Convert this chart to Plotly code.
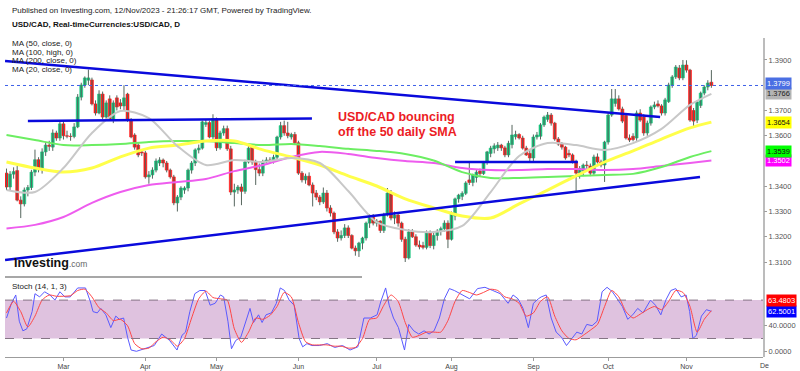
import plotly.graph_objects as go

# ---------------- DATA ----------------
opens = [
    1.3452, 1.3397, 1.3448, 1.3462, 1.3345, 1.3330, 1.3385, 1.3395, 1.3456, 1.3505,
    1.3466, 1.3536, 1.3563, 1.3555, 1.3611, 1.3591, 1.3647, 1.3600, 1.3598, 1.3597,
    1.3635, 1.3753, 1.3801, 1.3820, 1.3821, 1.3726, 1.3690, 1.3765, 1.3674, 1.3746,
    1.3666, 1.3750, 1.3730, 1.3718, 1.3765, 1.3662, 1.3603, 1.3563, 1.3536, 1.3532,
    1.3437, 1.3445, 1.3464, 1.3492, 1.3504, 1.3492, 1.3464, 1.3437, 1.3334, 1.3357,
    1.3385, 1.3393, 1.3464, 1.3492, 1.3544, 1.3551, 1.3645, 1.3652, 1.3595, 1.3668,
    1.3552, 1.3611, 1.3628, 1.3548, 1.3377, 1.3385, 1.3397, 1.3380, 1.3496, 1.3555,
    1.3496, 1.3466, 1.3452, 1.3496, 1.3504, 1.3501, 1.3515, 1.3595, 1.3640, 1.3611,
    1.3595, 1.3605, 1.3572, 1.3452, 1.3425, 1.3440, 1.3405, 1.3373, 1.3357, 1.3338,
    1.3373, 1.3314, 1.3294, 1.3219, 1.3195, 1.3205, 1.3235, 1.3205, 1.3155, 1.3144,
    1.3175, 1.3195, 1.3254, 1.3278, 1.3254, 1.3262, 1.3225, 1.3286, 1.3373, 1.3274,
    1.3286, 1.3254, 1.3190, 1.3116, 1.3219, 1.3200, 1.3167, 1.3165, 1.3158, 1.3215,
    1.3165, 1.3205, 1.3222, 1.3232, 1.3254, 1.3190, 1.3282, 1.3350, 1.3360, 1.3372,
    1.3425, 1.3415, 1.3435, 1.3460, 1.3450, 1.3496, 1.3530, 1.3548, 1.3552, 1.3563,
    1.3552, 1.3524, 1.3565, 1.3596, 1.3605, 1.3591, 1.3551, 1.3530, 1.3512, 1.3595,
    1.3598, 1.3643, 1.3665, 1.3682, 1.3650, 1.3587, 1.3567, 1.3555, 1.3530, 1.3524,
    1.3496, 1.3452, 1.3460, 1.3484, 1.3480, 1.3452, 1.3516, 1.3496, 1.3484, 1.3575,
    1.3682, 1.3728, 1.3746, 1.3706, 1.3680, 1.3591, 1.3598, 1.3591, 1.3690, 1.3674,
    1.3611, 1.3650, 1.3714, 1.3726, 1.3718, 1.3690, 1.3735, 1.3801, 1.3833, 1.3868,
    1.3829, 1.3880, 1.3860, 1.3700, 1.3662, 1.3720, 1.3769, 1.3793, 1.3812,
]
highs = [
    1.3470, 1.3460, 1.3475, 1.3480, 1.3360, 1.3395, 1.3405, 1.3465, 1.3545, 1.3515,
    1.3550, 1.3575, 1.3580, 1.3625, 1.3620, 1.3660, 1.3660, 1.3620, 1.3610, 1.3650,
    1.3765, 1.3810, 1.3835, 1.3862, 1.3830, 1.3740, 1.3780, 1.3775, 1.3740, 1.3760,
    1.3740, 1.3760, 1.3745, 1.3800, 1.3770, 1.3670, 1.3610, 1.3570, 1.3545, 1.3540,
    1.3460, 1.3475, 1.3510, 1.3515, 1.3510, 1.3500, 1.3470, 1.3445, 1.3365, 1.3400,
    1.3400, 1.3470, 1.3500, 1.3550, 1.3565, 1.3660, 1.3665, 1.3660, 1.3685, 1.3672,
    1.3620, 1.3640, 1.3640, 1.3560, 1.3410, 1.3405, 1.3410, 1.3505, 1.3560, 1.3565,
    1.3505, 1.3490, 1.3505, 1.3515, 1.3515, 1.3525, 1.3600, 1.3655, 1.3660, 1.3655,
    1.3612, 1.3615, 1.3580, 1.3460, 1.3450, 1.3455, 1.3415, 1.3385, 1.3365, 1.3395,
    1.3385, 1.3325, 1.3300, 1.3230, 1.3225, 1.3250, 1.3245, 1.3210, 1.3165, 1.3180,
    1.3200, 1.3260, 1.3290, 1.3290, 1.3270, 1.3265, 1.3295, 1.3393, 1.3385, 1.3300,
    1.3295, 1.3260, 1.3200, 1.3230, 1.3230, 1.3210, 1.3185, 1.3180, 1.3225, 1.3225,
    1.3215, 1.3230, 1.3240, 1.3265, 1.3265, 1.3300, 1.3355, 1.3370, 1.3380, 1.3420,
    1.3500, 1.3450, 1.3465, 1.3470, 1.3500, 1.3540, 1.3560, 1.3570, 1.3575, 1.3568,
    1.3560, 1.3580, 1.3643, 1.3620, 1.3610, 1.3600, 1.3560, 1.3545, 1.3605, 1.3615,
    1.3650, 1.3680, 1.3694, 1.3690, 1.3655, 1.3595, 1.3575, 1.3560, 1.3545, 1.3530,
    1.3505, 1.3480, 1.3490, 1.3500, 1.3490, 1.3525, 1.3530, 1.3505, 1.3580, 1.3690,
    1.3785, 1.3785, 1.3760, 1.3715, 1.3690, 1.3605, 1.3610, 1.3700, 1.3705, 1.3685,
    1.3660, 1.3720, 1.3735, 1.3740, 1.3725, 1.3750, 1.3810, 1.3840, 1.3880, 1.3880,
    1.3900, 1.3899, 1.3865, 1.3710, 1.3740, 1.3775, 1.3800, 1.3820, 1.3860,
]
lows = [
    1.3385, 1.3385, 1.3430, 1.3340, 1.3274, 1.3320, 1.3360, 1.3385, 1.3440, 1.3455,
    1.3450, 1.3520, 1.3540, 1.3540, 1.3580, 1.3580, 1.3585, 1.3590, 1.3580, 1.3590,
    1.3630, 1.3740, 1.3790, 1.3800, 1.3720, 1.3680, 1.3685, 1.3665, 1.3660, 1.3660,
    1.3650, 1.3700, 1.3705, 1.3700, 1.3655, 1.3590, 1.3545, 1.3515, 1.3520, 1.3430,
    1.3410, 1.3430, 1.3455, 1.3480, 1.3475, 1.3455, 1.3430, 1.3325, 1.3300, 1.3345,
    1.3370, 1.3380, 1.3450, 1.3480, 1.3530, 1.3545, 1.3635, 1.3590, 1.3585, 1.3540,
    1.3545, 1.3600, 1.3540, 1.3365, 1.3320, 1.3370, 1.3325, 1.3370, 1.3490, 1.3485,
    1.3405, 1.3440, 1.3440, 1.3485, 1.3490, 1.3490, 1.3505, 1.3585, 1.3600, 1.3590,
    1.3585, 1.3565, 1.3445, 1.3415, 1.3410, 1.3400, 1.3320, 1.3345, 1.3325, 1.3330,
    1.3300, 1.3280, 1.3210, 1.3180, 1.3185, 1.3195, 1.3195, 1.3150, 1.3125, 1.3120,
    1.3150, 1.3185, 1.3235, 1.3245, 1.3240, 1.3215, 1.3215, 1.3280, 1.3265, 1.3250,
    1.3240, 1.3180, 1.3100, 1.3110, 1.3195, 1.3160, 1.3150, 1.3150, 1.3150, 1.3155,
    1.3150, 1.3185, 1.3205, 1.3220, 1.3155, 1.3185, 1.3265, 1.3335, 1.3345, 1.3365,
    1.3405, 1.3400, 1.3415, 1.3440, 1.3445, 1.3485, 1.3515, 1.3530, 1.3540, 1.3540,
    1.3515, 1.3515, 1.3550, 1.3585, 1.3585, 1.3545, 1.3520, 1.3495, 1.3500, 1.3585,
    1.3585, 1.3635, 1.3655, 1.3640, 1.3580, 1.3560, 1.3545, 1.3505, 1.3515, 1.3490,
    1.3377, 1.3430, 1.3440, 1.3470, 1.3440, 1.3445, 1.3490, 1.3475, 1.3417, 1.3565,
    1.3675, 1.3715, 1.3700, 1.3650, 1.3585, 1.3575, 1.3578, 1.3580, 1.3655, 1.3600,
    1.3600, 1.3640, 1.3705, 1.3712, 1.3680, 1.3680, 1.3730, 1.3790, 1.3825, 1.3820,
    1.3820, 1.3850, 1.3655, 1.3635, 1.3650, 1.3710, 1.3760, 1.3780, 1.3790,
]
closes = [
    1.3397, 1.3448, 1.3458, 1.3345, 1.3330, 1.3385, 1.3395, 1.3456, 1.3505, 1.3466,
    1.3536, 1.3563, 1.3558, 1.3611, 1.3591, 1.3647, 1.3600, 1.3598, 1.3597, 1.3635,
    1.3753, 1.3801, 1.3829, 1.3829, 1.3726, 1.3690, 1.3765, 1.3674, 1.3730, 1.3666,
    1.3730, 1.3714, 1.3718, 1.3750, 1.3662, 1.3595, 1.3555, 1.3524, 1.3532, 1.3437,
    1.3445, 1.3464, 1.3500, 1.3504, 1.3492, 1.3464, 1.3437, 1.3334, 1.3357, 1.3393,
    1.3393, 1.3464, 1.3492, 1.3544, 1.3551, 1.3655, 1.3652, 1.3595, 1.3668, 1.3552,
    1.3611, 1.3628, 1.3548, 1.3377, 1.3385, 1.3397, 1.3380, 1.3496, 1.3551, 1.3496,
    1.3466, 1.3452, 1.3496, 1.3504, 1.3501, 1.3515, 1.3595, 1.3640, 1.3611, 1.3600,
    1.3605, 1.3572, 1.3452, 1.3425, 1.3440, 1.3405, 1.3373, 1.3357, 1.3338, 1.3373,
    1.3314, 1.3294, 1.3219, 1.3195, 1.3205, 1.3235, 1.3205, 1.3155, 1.3144, 1.3175,
    1.3195, 1.3254, 1.3278, 1.3254, 1.3262, 1.3225, 1.3286, 1.3373, 1.3274, 1.3286,
    1.3254, 1.3190, 1.3116, 1.3219, 1.3200, 1.3167, 1.3160, 1.3158, 1.3215, 1.3165,
    1.3205, 1.3222, 1.3232, 1.3254, 1.3190, 1.3290, 1.3350, 1.3365, 1.3372, 1.3413,
    1.3415, 1.3445, 1.3456, 1.3450, 1.3496, 1.3536, 1.3551, 1.3560, 1.3563, 1.3552,
    1.3524, 1.3570, 1.3603, 1.3605, 1.3591, 1.3551, 1.3524, 1.3512, 1.3595, 1.3603,
    1.3643, 1.3674, 1.3682, 1.3650, 1.3587, 1.3567, 1.3555, 1.3512, 1.3524, 1.3496,
    1.3452, 1.3470, 1.3484, 1.3482, 1.3452, 1.3516, 1.3496, 1.3484, 1.3575, 1.3682,
    1.3746, 1.3746, 1.3706, 1.3658, 1.3591, 1.3583, 1.3585, 1.3690, 1.3662, 1.3611,
    1.3650, 1.3714, 1.3722, 1.3718, 1.3690, 1.3742, 1.3801, 1.3833, 1.3872, 1.3829,
    1.3880, 1.3860, 1.3662, 1.3658, 1.3734, 1.3769, 1.3793, 1.3809, 1.3799,
]

ma_idx = [0, 8, 16, 24, 32, 40, 48, 56, 64, 72, 80, 88, 96, 104, 112, 120,
          128, 136, 144, 152, 160, 168, 176, 184, 192, 198]
ma20 = [1.3385, 1.3377, 1.3472, 1.3611, 1.3698, 1.3670, 1.3559, 1.3484, 1.3504,
        1.3496, 1.3512, 1.3492, 1.3381, 1.3258, 1.3227, 1.3219, 1.3243, 1.3377,
        1.3520, 1.3571, 1.3563, 1.3544, 1.3571, 1.3627, 1.3722, 1.3766]
ma50 = [1.3496, 1.3472, 1.3456, 1.3472, 1.3516, 1.3551, 1.3563, 1.3579, 1.3579,
        1.3544, 1.3516, 1.3484, 1.3441, 1.3401, 1.3350, 1.3314, 1.3282, 1.3274,
        1.3330, 1.3385, 1.3441, 1.3496, 1.3540, 1.3587, 1.3631, 1.3654]
ma100 = [1.3603, 1.3583, 1.3563, 1.3563, 1.3567, 1.3575, 1.3579, 1.3579, 1.3571,
         1.3563, 1.3567, 1.3559, 1.3548, 1.3540, 1.3528, 1.3502, 1.3456, 1.3433,
         1.3433, 1.3437, 1.3441, 1.3445, 1.3449, 1.3476, 1.3516, 1.3539]
ma200 = [1.3233, 1.3247, 1.3278, 1.3334, 1.3377, 1.3405, 1.3417, 1.3429, 1.3460,
         1.3484, 1.3516, 1.3536, 1.3528, 1.3512, 1.3500, 1.3492, 1.3472, 1.3464,
         1.3464, 1.3468, 1.3468, 1.3464, 1.3468, 1.3480, 1.3492, 1.3502]

# hand-drawn trendlines (bar index, price)
desc_x, desc_y = [-0.4, 183.6], [1.3896, 1.3674]
res_x, res_y = [6, 85.8], [1.3658, 1.3668]
asc_x, asc_y = [-0.4, 194.8], [1.3108, 1.3437]
sup_x, sup_y = [126, 160.5], [1.3496, 1.3496]

# Stochastic (14,1,3)
stoch_k_x = [0, 1.4, 2.6, 3.6, 4.6, 5.7, 7.2, 8, 9.3, 10.7, 12.2, 13.6, 15, 16.4, 17.9, 20,
             22.2, 23.6, 24.3, 25.5, 26.5, 27.9, 29.3, 30.7, 31.7, 32.9, 34, 35, 36.5,
             38.6, 41.5, 43.6, 45.8, 47.9, 49.3, 50.3, 51.5, 52.9, 54.3, 55.8, 57.2,
             58.6, 60.1, 61, 62.2, 63.2, 64.4, 65.8, 67.2, 68.4, 69.4, 70.8, 71.8, 72.9,
             74.4, 75.8, 76.9, 78.1, 79.4, 80.8, 82.2, 83.2, 84.4, 85.8, 87.9, 90.1,
             92.2, 94.4, 96.5, 98.7, 100.4, 102.2, 104.1, 105.1, 106.5, 107.5, 108.7,
             110.1, 111.8, 113, 114.4, 115.8, 117.3, 118.7, 120.1, 121.6, 123, 124.4,
             125.8, 128, 130.1, 132.3, 134.4, 136.6, 138.7, 140.9, 142.3, 143.7, 145.1,
             146.6, 148, 149.4, 150.2, 151.6, 153, 154.4, 155.9, 157.3, 158.7, 160.2,
             161.6, 163, 164.5, 165.9, 167.3, 168.7, 170.2, 171.6, 173, 174.5, 175.9,
             177.3, 178.8, 180.9, 182.3, 183.8, 185.2, 186.6, 188, 189.5, 190.9, 191.9,
             192.8, 193.8, 195.2, 196.6, 198]
stoch_k = [52, 75, 88, 47, 32, 35, 62, 90, 85, 93, 88, 80, 93, 85, 85, 99,
           99, 77, 62, 60, 67, 57, 37, 55, 50, 52, 22, 2, 0,
           4, 9, 27, 17, 2, 25, 30, 62, 90, 95, 95, 72,
           75, 88, 85, 47, 4, 17, 22, 45, 67, 45, 57, 45, 57,
           60, 75, 99, 95, 80, 72, 20, 7, 12, 9, 9, 12,
           6, 9, 2, 7, 52, 52, 57, 77, 99, 72, 52,
           37, 2, 42, 32, 27, 32, 27, 32, 52, 82, 98,
           95, 88, 82, 98, 100, 95, 90, 75, 88, 82, 67,
           37, 75, 82, 85, 88, 52, 30, 22, 9, 20, 30,
           27, 42, 40, 47, 93, 100, 93, 82, 70, 50, 57,
           67, 60, 80, 72, 57, 80, 95, 98, 85, 88, 62,
           20, 25, 55, 65, 62.5001]
stoch_d_x = list(range(0, 199, 2))
stoch_d = [60, 78, 62, 38, 55, 80, 88, 86, 86, 87, 95, 97, 85, 68, 60, 48, 50, 40,
           12, 4, 5, 15, 22, 18, 8, 20, 52, 82, 94, 84, 82, 80, 35, 14, 30, 52,
           50, 56, 70, 92, 85, 45, 15, 10, 10, 10, 8, 8, 5, 6, 20, 50, 52, 72,
           88, 78, 45, 22, 25, 30, 30, 30, 48, 78, 95, 92, 88, 92, 97, 95, 85, 82,
           75, 55, 60, 78, 85, 55, 32, 20, 18, 25, 33, 42, 70, 95, 85, 62, 52, 58,
           65, 70, 65, 78, 95, 92, 70, 30, 50, 63.4803]

month_idx = [16, 39, 59, 82, 104, 125, 148, 169, 191]
month_lbl = ["Mar", "Apr", "May", "Jun", "Jul", "Aug", "Sep", "Oct", "Nov"]
price_ticks = [1.31, 1.32, 1.33, 1.34, 1.36, 1.37, 1.39]
stoch_ticks = [0, 40]

# ---------------- FIGURE ----------------
W, H = 800, 371
FONT = "Liberation Sans, Arial, sans-serif"
GREEN, RED, WICK = "#14c27b", "#ff1414", "#56665e"


def py(px):  # pixel row -> paper y
    return (H - px) / H


n = len(closes)
idx = list(range(n))

fig = go.Figure()

# wicks
wx, wy = [], []
for i in idx:
    wx += [i, i, None]
    wy += [lows[i], highs[i], None]
fig.add_trace(go.Scatter(x=wx, y=wy, mode="lines", line=dict(color=WICK, width=1),
                         xaxis="x", yaxis="y", hoverinfo="skip"))
# bodies
bases = [min(o, c) for o, c in zip(opens, closes)]
heights = [abs(c - o) for o, c in zip(opens, closes)]
cols = [GREEN if c >= o else RED for o, c in zip(opens, closes)]
fig.add_trace(go.Bar(x=idx, y=heights, base=bases, width=0.82,
                     marker=dict(color=cols, line=dict(color=cols, width=0.6)),
                     xaxis="x", yaxis="y", hoverinfo="skip"))

# moving averages
for vals, col, wd in [(ma200, "#ee5cee", 2), (ma100, "#6cee62", 2),
                      (ma50, "#ffff4a", 3), (ma20, "#c8c8c8", 2)]:
    fig.add_trace(go.Scatter(x=ma_idx, y=vals, mode="lines",
                             line=dict(color=col, width=wd, shape="spline", smoothing=0.8),
                             xaxis="x", yaxis="y", hoverinfo="skip"))

# trendlines
for lx, ly in [(desc_x, desc_y), (res_x, res_y), (asc_x, asc_y), (sup_x, sup_y)]:
    fig.add_trace(go.Scatter(x=lx, y=ly, mode="lines", line=dict(color="#0a0adc", width=2.5),
                             xaxis="x", yaxis="y", hoverinfo="skip"))

# stochastic
fig.add_trace(go.Scatter(x=stoch_k_x, y=stoch_k, mode="lines", line=dict(color="#5a5aff", width=1),
                         xaxis="x2", yaxis="y2", hoverinfo="skip"))
fig.add_trace(go.Scatter(x=stoch_d_x, y=stoch_d, mode="lines",
                         line=dict(color="#ff4646", width=1, shape="spline", smoothing=0.6),
                         xaxis="x2", yaxis="y2", hoverinfo="skip"))

XR = [-0.42, 212.5]
XD = [5 / W, 763 / W]
fig.update_layout(
    width=W, height=H, margin=dict(l=0, r=0, t=0, b=0),
    paper_bgcolor="white", plot_bgcolor="white", showlegend=False, hovermode=False,
    font=dict(family=FONT, size=8, color="#333"),
    xaxis=dict(domain=XD, range=XR, anchor="y", showticklabels=False, showgrid=False,
               zeroline=False, showline=False, ticks=""),
    xaxis2=dict(domain=XD, range=XR, anchor="y2", showgrid=False, zeroline=False,
                showline=True, linecolor="#9c9c9c", linewidth=1,
                tickvals=month_idx, ticktext=month_lbl, ticks="outside", ticklen=3,
                tickcolor="#9c9c9c", tickfont=dict(size=7, color="#444", family=FONT)),
    yaxis=dict(domain=[py(277), py(36)], range=[1.30406, 1.39950], anchor="x", side="right",
               showgrid=False, zeroline=False, showline=False,
               tickvals=price_ticks, ticktext=[f"{v:.4f}" for v in price_ticks],
               ticks="outside", ticklen=3, tickcolor="#9c9c9c",
               tickfont=dict(size=7.5, color="#555", family=FONT)),
    yaxis2=dict(domain=[py(357), py(279)], range=[-8.9, 112.97], anchor="x2", side="right",
                showgrid=False, zeroline=False, showline=False,
                tickvals=stoch_ticks, ticktext=[f"{v:.4f}" for v in stoch_ticks],
                ticks="outside", ticklen=3, tickcolor="#9c9c9c",
                tickfont=dict(size=7.5, color="#555", family=FONT)),
    bargap=0,
)

shapes = [
    # stochastic band and levels
    dict(type="rect", xref="x2 domain", yref="y2", x0=0, x1=1, y0=20, y1=80,
         fillcolor="#dfc2df", line=dict(width=0), layer="below"),
    dict(type="line", xref="x2 domain", yref="y2", x0=0, x1=1, y0=80, y1=80,
         line=dict(color="#857585", width=1, dash="dash")),
    dict(type="line", xref="x2 domain", yref="y2", x0=0, x1=1, y0=20, y1=20,
         line=dict(color="#857585", width=1, dash="dash")),
    # last price line
    dict(type="line", xref="x domain", yref="y", x0=0, x1=1, y0=closes[-1], y1=closes[-1],
         line=dict(color="#3f62e8", width=1, dash="dot")),
    # right price scale border
    dict(type="line", xref="paper", yref="paper", x0=764 / W, x1=764 / W, y0=py(357), y1=py(38),
         line=dict(color="#a6a6a6", width=1.5)),
    # pane separator fragment
    dict(type="line", xref="paper", yref="paper", x0=5 / W, x1=362 / W, y0=py(277), y1=py(277),
         line=dict(color="#8a8a8a", width=1.5)),
]
fig.update_layout(shapes=shapes)

ann = []


def txt(x, y, s, size=8, color="#222", bold=False, xanchor="left"):
    ann.append(dict(xref="paper", yref="paper", x=x / W, y=py(y), text=(f"<b>{s}</b>" if bold else s),
                    showarrow=False, xanchor=xanchor, yanchor="middle",
                    font=dict(size=size, color=color, family=FONT)))


txt(10, 11, "Published on Investing.com, 12/Nov/2023 - 21:26:17 GMT, Powered by TradingView.", 8, "#222")
txt(10, 25, "USD/CAD, Real-timeCurrencies:USD/CAD, D", 8, "#111", bold=True)
for yy, s in [(43.3, "MA (50, close, 0)"), (52.3, "MA (100, high, 0)"),
              (61, "MA (200, close, 0)"), (69.3, "MA (20, close, 0)")]:
    txt(10, yy, s, 8, "#222")
txt(10, 286, "Stoch (14, 1, 3)", 8, "#222")
txt(336, 117, "USD/CAD bouncing", 12.5, "#ec1c24", bold=True)
txt(336, 132, "off the 50 daily SMA", 12.5, "#ec1c24", bold=True)
ann.append(dict(xref="paper", yref="paper", x=12 / W, y=py(263), showarrow=False,
                xanchor="left", yanchor="middle",
                text="<b>Investing</b><span style='font-size:8.5px;color:#666'>.com</span>",
                font=dict(size=12.5, color="#111", family=FONT)))
txt(758, 365, "De", 7, "#444")

# value labels on the right scale
for val, bg, fc, shift in [(ma200[-1], "#ff00ff", "white", 0), (ma100[-1], "#00ff00", "#111", 0),
                           (ma50[-1], "#ffff00", "#111", 0), (ma20[-1], "#b4b4b4", "#222", 0),
                           (closes[-1], "#4a6fe3", "white", 2)]:
    ann.append(dict(xref="paper", yref="y", x=765 / W, y=val, yshift=shift, text=f"{val:.4f}",
                    showarrow=False, xanchor="left", yanchor="middle", bgcolor=bg,
                    borderpad=1, font=dict(size=7.5, color=fc, family=FONT)))
for val, bg, shift in [(stoch_k[-1], "#0000ff", 0), (stoch_d[-1], "#ff0000", 10)]:
    ann.append(dict(xref="paper", yref="y2", x=766 / W, y=val, yshift=shift, text=f"{val:.4f}",
                    showarrow=False, xanchor="left", yanchor="middle", bgcolor=bg,
                    borderpad=1, font=dict(size=7.5, color="white", family=FONT)))
fig.update_layout(annotations=ann)

fig.write_html("out.html", config={"displayModeBar": False, "staticPlot": True},
               post_script="document.body.style.margin='0';document.body.style.padding='0';")
